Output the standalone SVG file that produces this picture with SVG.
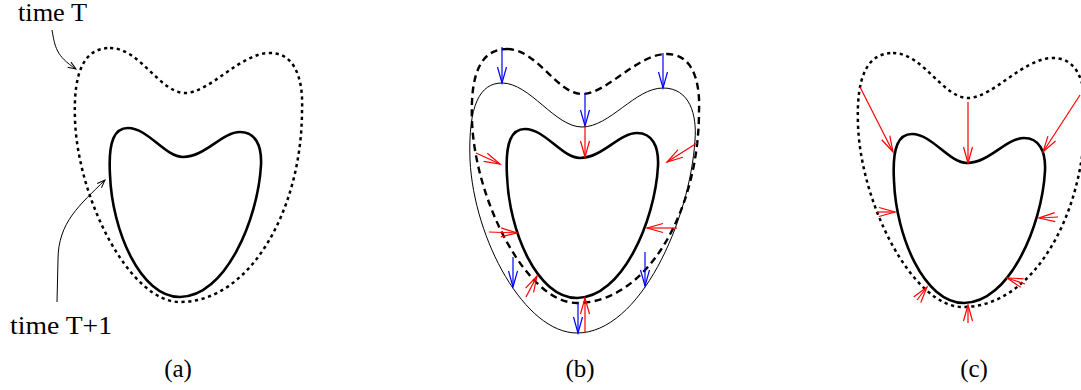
<svg xmlns="http://www.w3.org/2000/svg" xmlns:xlink="http://www.w3.org/1999/xlink" width="1081" height="390" viewBox="0 0 1081 390">
<style>
  .lbl { font-family: "Liberation Serif", "Times New Roman", serif; font-size: 25px; fill: #000; }
  .dotted { fill: none; stroke: #000; stroke-width: 2.5; stroke-dasharray: 3.2 3.6; }
  .dashed { fill: none; stroke: #000; stroke-width: 2.4; stroke-dasharray: 7 4.5; }
  .thick { fill: none; stroke: #000; stroke-width: 2.6; }
  .thin { fill: none; stroke: #000; stroke-width: 1; }
  .red { fill: none; stroke: #ff0000; stroke-width: 1.2; marker-end: url(#hr); }
  .blue { fill: none; stroke: #0000ff; stroke-width: 1.2; marker-end: url(#hb); }
  .note { fill: none; stroke: #000; stroke-width: 1; marker-end: url(#hk); }
</style>
<defs>
  <marker id="hr" markerUnits="userSpaceOnUse" viewBox="-18 -6 20 12" refX="0" refY="0" markerWidth="20" markerHeight="12" orient="auto" overflow="visible">
    <path d="M -16,-4.5 L 0,0 L -16,4.5" fill="none" stroke="#ff0000" stroke-width="1.2"/>
  </marker>
  <marker id="hb" markerUnits="userSpaceOnUse" viewBox="-18 -6 20 12" refX="0" refY="0" markerWidth="20" markerHeight="12" orient="auto" overflow="visible">
    <path d="M -16,-4.5 L 0,0 L -16,4.5" fill="none" stroke="#0000ff" stroke-width="1.2"/>
  </marker>
  <marker id="hk" markerUnits="userSpaceOnUse" viewBox="-10 -4 12 8" refX="0" refY="0" markerWidth="12" markerHeight="8" orient="auto" overflow="visible">
    <path d="M -8,-3 L 0,0 L -8,3" fill="none" stroke="#000" stroke-width="1"/>
  </marker>
  <path id="outer" d="M 110,48 C 140,48 160,93 185,93 C 210,93 240,53 270,53 C 300,53 303,90 302,110 C 302,210 250,302 180,302 C 130,302 78,200 75,120 C 73,70 85,48 110,48 Z"/>
  <path id="inner" d="M 183,157 C 205,157 222,132 240,132 C 255,132 262,145 261,165 C 258,220 225,297 180,297 C 140,297 112,230 110,175 C 108,140 115,128 128,128 C 148,128 165,157 183,157 Z"/>
</defs>

<g id="panel-a">
  <use xlink:href="#outer" class="dotted"/>
  <use xlink:href="#inner" class="thick"/>
  <text class="lbl" x="18" y="21" textLength="69" lengthAdjust="spacingAndGlyphs">time T</text>
  <text class="lbl" x="10" y="334" textLength="102" lengthAdjust="spacingAndGlyphs">time T+1</text>
  <text class="lbl" x="178" y="377" text-anchor="middle">(a)</text>
</g>

<g id="panel-b">
  <use xlink:href="#outer" class="dashed" transform="translate(397,1)"/>
  <path class="thin" d="M 582,127 C 610,127 635,88 663,88 C 690,88 697,115 695,140 C 690,220 640,333 577,333 C 525,333 474,240 470,160 C 468,105 480,83 502,83 C 530,83 555,127 582,127 Z"/>
  <use xlink:href="#inner" class="thick" transform="translate(397,1)"/>
  <text class="lbl" x="580" y="377" text-anchor="middle">(b)</text>
</g>

<g id="panel-c">
  <use xlink:href="#outer" class="dotted" transform="translate(783,5)"/>
  <use xlink:href="#inner" class="thick" transform="translate(784,6)"/>
  <text class="lbl" x="974" y="377" text-anchor="middle">(c)</text>
</g>

<g id="connectors">
  <path class="note" d="M 52,30 C 55,47 56,56 76,69"/>
  <path class="note" d="M 57,302 L 58,260 C 58,222 80,205 105,180"/>

  <path class="blue" d="M 502,47 L 502,83"/>
  <path class="blue" d="M 663,53 L 663,88"/>
  <path class="blue" d="M 585,93 L 585,126"/>
  <path class="blue" d="M 513,257 L 513,287"/>
  <path class="blue" d="M 645,252 L 645,286"/>
  <path class="blue" d="M 578,303 L 578,333"/>

  <path class="red" d="M 585,126 L 585,157"/>
  <path class="red" d="M 476,153 L 500,164"/>
  <path class="red" d="M 697,143 L 667,162"/>
  <path class="red" d="M 489,232 L 517,233"/>
  <path class="red" d="M 677,228 L 647,228"/>
  <path class="red" d="M 526,297 L 537,276"/>
  <path class="red" d="M 585,333 L 585,298"/>

  <path class="red" d="M 860,87 L 893,152"/>
  <path class="red" d="M 968,102 L 968,163"/>
  <path class="red" d="M 1080,95 L 1043,152"/>
  <path class="red" d="M 877,212 L 895,212"/>
  <path class="red" d="M 1058,217 L 1039,218"/>
  <path class="red" d="M 1025,284 L 1007,278"/>
  <path class="red" d="M 917,300 L 927,287"/>
  <path class="red" d="M 968,323 L 968,305"/>
</g>
</svg>
